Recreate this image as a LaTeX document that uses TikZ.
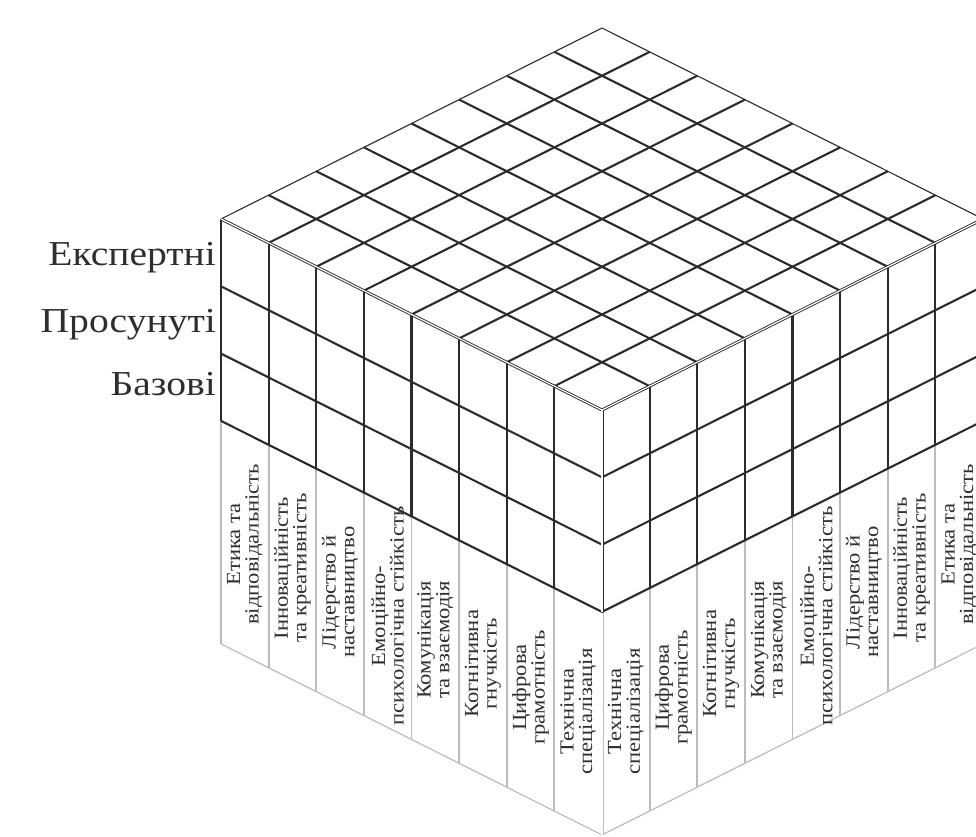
\documentclass[tikz,border=0pt]{standalone}
\usepackage{fontspec}
\setmainfont[FakeStretch=1.13]{Liberation Serif}
\definecolor{ink}{HTML}{2B2B2B}
\definecolor{pale}{HTML}{BCBCBC}
\definecolor{txt}{HTML}{2E2E2E}
\tikzset{
  gridline/.style={draw=ink, line width=2.1pt},
  backedge/.style={draw=ink, line width=1.1pt},
  rim/.style={draw=ink, line width=0.9pt, double=white, double distance=1.2pt},
  palerim/.style={draw=pale, line width=0.9pt, double=white, double distance=1.2pt},
  divider/.style={draw=pale, line width=1.8pt},
  paleedge/.style={draw=pale, line width=1.2pt},
  level/.style={font=\fontsize{35}{38}\selectfont, text=txt, anchor=base east, inner sep=0pt},
  skill/.style={font=\fontsize{20}{18.6}\selectfont, text=txt,
    rotate=90, align=center, inner sep=0pt},
}
\begin{document}
\lineskiplimit=-20pt
\begin{tikzpicture}[x=1pt, y=-1pt]
\useasboundingbox (0,0) rectangle (976,836);
% cell size on the faces
\def\dx{47.625}
\def\dy{23.875}
\def\hh{67.3}  % height of one level
\def\gg{223}   % length of the label strips

% corners of the top face
\coordinate (T) at (602,28);
\coordinate (L) at (221,219);
\coordinate (R) at (983,219);
\coordinate (F) at (602,410);

% label strips below the two side faces
\foreach \i in {0,...,7}
  \draw[divider] (221+\i*\dx, 219+\i*\dy+3*\hh) -- ++(0,\gg);
\foreach \i in {1,...,8}
  \draw[divider] (602+\i*\dx, 410-\i*\dy+3*\hh) -- ++(0,\gg);
\draw[paleedge] (221,219+3*\hh+\gg) -- (602,410+3*\hh+\gg) -- (983,219+3*\hh+\gg);
\draw[palerim] (602,410+3*\hh) -- ++(0,\gg);

% side faces: columns and levels
\foreach \i in {1,...,7} {
  \draw[gridline] (221+\i*\dx, 219+\i*\dy) -- ++(0,3*\hh);
  \draw[gridline] (602+\i*\dx, 410-\i*\dy) -- ++(0,3*\hh);
}
\draw[gridline] (983,219) -- ++(0,3*\hh);
\foreach \k in {1,2,3}
  \draw[gridline] (221,219+\k*\hh) -- (602,410+\k*\hh) -- (983,219+\k*\hh);
\draw[backedge] (L) -- ++(0,3*\hh);

% top face grid
\foreach \i in {1,...,7} {
  \draw[gridline] (602-\i*\dx, 28+\i*\dy) -- ++(8*\dx,8*\dy);
  \draw[gridline] (602+\i*\dx, 28+\i*\dy) -- ++(-8*\dx,8*\dy);
}
\draw[backedge] (L) -- (T) -- (R);
\draw[rim] (L) -- (F) -- (R);
\draw[rim] (F) -- ++(0,3*\hh);

% level names
\node[level] (expert) at (216,265) {Експертні};
\node[level] (advanced) at (216,332) {Просунуті};
\node[level] (basic) at (216,395) {Базові};

% competence names, left face
\foreach \name [count=\i from 0] in {%
  {Етика та\\відповідальність},
  {Інноваційність\\та креативність},
  {Лідерство й\\наставництво},
  {Емоційно-\\психологічна стійкість},
  {Комунікація\\та взаємодія},
  {Когнітивна\\гнучкість},
  {Цифрова\\грамотність},
  {Технічна\\спеціалізація}}
  \node[skill] (left\i) at (221+\i*\dx+0.5*\dx, 219+\i*\dy+0.5*\dy+3*\hh+0.5*\gg) {\name};

% competence names, right face
\foreach \name [count=\i from 0] in {%
  {Технічна\\спеціалізація},
  {Цифрова\\грамотність},
  {Когнітивна\\гнучкість},
  {Комунікація\\та взаємодія},
  {Емоційно-\\психологічна стійкість},
  {Лідерство й\\наставництво},
  {Інноваційність\\та креативність},
  {Етика та\\відповідальність}}
  \node[skill] (right\i) at (602+\i*\dx+0.5*\dx, 410-\i*\dy-0.5*\dy+3*\hh+0.5*\gg) {\name};
\end{tikzpicture}
\end{document}
